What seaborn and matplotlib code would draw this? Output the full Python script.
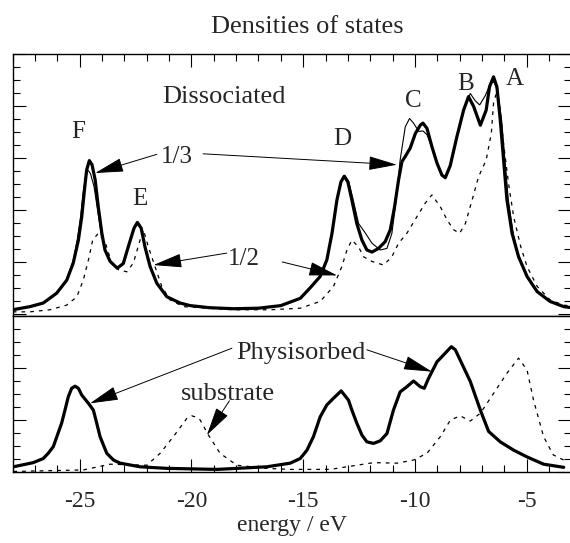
import matplotlib
matplotlib.use('Agg')
import matplotlib.pyplot as plt
from matplotlib.ticker import MultipleLocator
import seaborn as sns

# Estilo
sns.set_theme(style='ticks')
plt.rcParams['font.family'] = ['Liberation Serif', 'DejaVu Serif']
plt.rcParams['axes.unicode_minus'] = False

# --- Datos (energia en eV, DOS en unidades arbitrarias) ---
# Panel superior: disociado, curva gruesa
diss_thick_e = [-28.0, -27.23, -26.63, -26.03, -25.58, -25.29, -25.06, -24.91, -24.79, -24.69,
                -24.57, -24.45, -24.31, -24.17, -24.01, -23.87, -23.64, -23.32, -23.05, -22.78,
                -22.57, -22.42, -22.25, -22.08, -21.85, -21.55, -21.10, -20.51, -20.06, -19.2,
                -18.1, -17.0, -16.0, -15.13, -14.69, -14.24, -13.94, -13.71, -13.49, -13.31,
                -13.16, -13.0, -12.82, -12.60, -12.37, -12.15, -11.92, -11.63, -11.33, -11.10,
                -10.91, -10.73, -10.58, -10.43, -10.21, -9.98, -9.76, -9.64, -9.46, -9.24,
                -9.01, -8.79, -8.64, -8.42, -8.12, -7.82, -7.60, -7.37, -7.07, -6.81,
                -6.66, -6.48, -6.33, -6.18, -6.03, -5.88, -5.65, -5.36, -4.98, -4.53,
                -3.95, -3.34, -3.0]
diss_thick_dos = [0.08, 0.14, 0.21, 0.40, 0.65, 0.98, 1.42, 1.87, 2.38, 2.77,
                  2.95, 2.87, 2.58, 2.06, 1.55, 1.23, 1.01, 0.88, 0.97, 1.36,
                  1.65, 1.76, 1.65, 1.29, 0.91, 0.59, 0.33, 0.21, 0.16, 0.12,
                  0.10, 0.11, 0.16, 0.30, 0.50, 0.72, 1.04, 1.55, 2.19, 2.54,
                  2.65, 2.54, 2.19, 1.74, 1.42, 1.23, 1.19, 1.26, 1.39, 1.62,
                  2.06, 2.58, 2.93, 3.03, 3.19, 3.47, 3.63, 3.67, 3.57, 3.22,
                  2.90, 2.67, 2.62, 2.85, 3.41, 3.92, 4.18, 3.99, 3.63, 3.92,
                  4.37, 4.56, 4.37, 3.73, 2.96, 2.19, 1.55, 1.10, 0.72, 0.43,
                  0.24, 0.14, 0.12]

# Panel superior: curva fina
diss_thin_e = [-28.0, -27.23, -26.63, -26.03, -25.58, -25.29, -25.10, -24.96, -24.85, -24.74,
               -24.64, -24.52, -24.36, -24.20, -24.03, -23.87, -23.64, -23.32, -23.05, -22.78,
               -22.57, -22.42, -22.25, -22.08, -21.85, -21.55, -21.10, -20.51, -20.06, -19.2,
               -18.1, -17.0, -16.0, -15.13, -14.69, -14.24, -13.94, -13.71, -13.49, -13.31,
               -13.13, -12.96, -12.76, -12.52, -12.21, -11.92, -11.55, -11.25, -11.03, -10.84,
               -10.66, -10.43, -10.24, -10.06, -9.83, -9.64, -9.46, -9.24, -9.01, -8.79,
               -8.64, -8.42, -8.12, -7.82, -7.52, -7.30, -7.10, -6.85, -6.58, -6.45,
               -6.30, -6.12, -5.97, -5.82, -5.60, -5.36, -4.98, -4.53, -3.95, -3.34,
               -3.0]
diss_thin_dos = [0.08, 0.14, 0.21, 0.40, 0.67, 1.02, 1.45, 1.87, 2.32, 2.65,
                 2.77, 2.70, 2.45, 2.00, 1.52, 1.23, 1.01, 0.88, 0.97, 1.36,
                 1.65, 1.76, 1.65, 1.29, 0.91, 0.59, 0.33, 0.21, 0.16, 0.12,
                 0.10, 0.11, 0.16, 0.30, 0.50, 0.72, 1.04, 1.55, 2.19, 2.54,
                 2.66, 2.54, 2.19, 1.74, 1.55, 1.36, 1.23, 1.26, 1.55, 2.19,
                 2.96, 3.60, 3.76, 3.67, 3.51, 3.52, 3.45, 3.20, 2.90, 2.67,
                 2.62, 2.85, 3.41, 3.95, 4.24, 4.10, 4.02, 4.20, 4.47, 4.45,
                 4.30, 3.73, 2.96, 2.19, 1.55, 1.10, 0.72, 0.43, 0.24, 0.14,
                 0.12]

# Panel superior: curva punteada
diss_dash_e = [-28.0, -27.23, -26.33, -25.58, -25.13, -24.84, -24.61, -24.42, -24.17, -23.87,
               -23.57, -23.27, -22.89, -22.60, -22.30, -22.15, -21.93, -21.63, -21.33, -20.96,
               -20.36, -18.13, -16.5, -15.13, -14.24, -13.64, -13.27, -13.04, -12.82, -12.52,
               -12.30, -11.92, -11.40, -11.03, -10.73, -10.36, -9.91, -9.54, -9.24, -8.86,
               -8.56, -8.27, -8.0, -7.74, -7.44, -7.15, -6.81, -6.58, -6.48, -6.36,
               -6.21, -6.03, -5.81, -5.58, -5.26, -4.98, -4.53, -3.95, -3.34, -3.0]
diss_dash_dos = [0.04, 0.04, 0.08, 0.17, 0.33, 0.65, 1.04, 1.42, 1.55, 1.39,
                 0.98, 0.85, 0.81, 0.98, 1.42, 1.62, 1.29, 0.91, 0.53, 0.27,
                 0.14, 0.08, 0.08, 0.11, 0.24, 0.53, 0.91, 1.23, 1.42, 1.29,
                 1.10, 1.01, 0.94, 1.10, 1.36, 1.55, 1.87, 2.13, 2.29, 2.06,
                 1.81, 1.62, 1.55, 1.74, 2.19, 2.64, 2.96, 3.47, 4.05, 4.24,
                 3.99, 3.28, 2.51, 1.87, 1.29, 0.91, 0.53, 0.27, 0.17, 0.15]

# Panel inferior: fisisorbido
phys_e = [-27.97, -27.08, -26.63, -26.41, -26.18, -25.81, -25.66, -25.51, -25.36, -25.21,
          -25.06, -24.91, -24.61, -24.39, -24.24, -24.09, -23.79, -23.49, -23.19, -22.30,
          -21.10, -18.86, -16.63, -15.58, -15.13, -14.83, -14.54, -14.24, -13.94, -13.64,
          -13.30, -12.97, -12.82, -12.60, -12.37, -12.15, -11.85, -11.55, -11.25, -10.96,
          -10.66, -10.36, -10.06, -9.76, -9.58, -9.39, -9.01, -8.72, -8.37, -8.19,
          -7.97, -7.52, -7.07, -6.70, -6.18, -5.58, -4.98, -4.24, -3.34]
phys_dos = [0.10, 0.18, 0.26, 0.36, 0.49, 0.94, 1.19, 1.45, 1.61, 1.65,
            1.61, 1.48, 1.32, 1.19, 0.94, 0.68, 0.36, 0.23, 0.17, 0.10,
            0.07, 0.05, 0.10, 0.17, 0.26, 0.42, 0.68, 1.06, 1.29, 1.42,
            1.56, 1.38, 1.19, 0.94, 0.71, 0.58, 0.55, 0.60, 0.74, 1.19,
            1.54, 1.64, 1.75, 1.64, 1.61, 1.80, 2.12, 2.25, 2.41, 2.35,
            2.15, 1.74, 1.19, 0.78, 0.58, 0.42, 0.29, 0.15, 0.09]

# Panel inferior: sustrato
subs_e = [-27.97, -24.84, -23.64, -22.0, -21.40, -20.81, -20.36, -20.21, -19.98, -19.76,
          -19.61, -19.24, -18.72, -17.97, -16.63, -15.58, -13.79, -11.85, -10.80, -10.06,
          -9.46, -8.86, -8.41, -7.97, -7.52, -7.07, -6.48, -5.88, -5.36, -4.98,
          -4.69, -4.24, -3.81, -3.34]
subs_dos = [0.01, 0.04, 0.15, 0.13, 0.36, 0.68, 0.94, 1.03, 1.08, 1.05,
            1.00, 0.71, 0.36, 0.13, 0.07, 0.05, 0.05, 0.18, 0.17, 0.23,
            0.36, 0.68, 1.00, 1.08, 0.98, 1.13, 1.51, 1.90, 2.19, 1.96,
            1.38, 0.68, 0.33, 0.23]

# Etiquetas de picos
peak_labels = ['F', 'E', 'D', 'C', 'B', 'A']
peak_e = [-25.08, -22.32, -13.24, -10.06, -7.71, -5.51]
peak_y = [3.38, 2.10, 3.25, 3.99, 4.31, 4.40]

# --- Figura ---
W, H = 570, 543
fig = plt.figure(figsize=(W / 100, H / 100), dpi=100)
ax_top = fig.add_axes([12.7 / W, (H - 316) / H, 558.6 / W, 262 / H])
ax_bot = fig.add_axes([12.7 / W, (H - 472) / H, 558.6 / W, 156 / H])

dash = (0, (3, 4))
sns.lineplot(x=diss_dash_e, y=diss_dash_dos, ax=ax_top, color='black', linewidth=0.9, linestyle=dash)
sns.lineplot(x=diss_thin_e, y=diss_thin_dos, ax=ax_top, color='black', linewidth=0.8)
sns.lineplot(x=diss_thick_e, y=diss_thick_dos, ax=ax_top, color='black', linewidth=2.3,
             solid_joinstyle='round')
sns.lineplot(x=subs_e, y=subs_dos, ax=ax_bot, color='black', linewidth=0.9, linestyle=dash)
sns.lineplot(x=phys_e, y=phys_dos, ax=ax_bot, color='black', linewidth=2.3,
             solid_joinstyle='round')

ax_top.set_ylim(-0.04, 5.0)
ax_bot.set_ylim(0, 3)

for ax in (ax_top, ax_bot):
    ax.set_xlim(-28, -3)
    ax.xaxis.set_major_locator(MultipleLocator(5))
    ax.xaxis.set_minor_locator(MultipleLocator(1))
    ax.yaxis.set_major_locator(MultipleLocator(1))
    ax.yaxis.set_minor_locator(MultipleLocator(0.25))
    ax.tick_params(which='both', direction='in', width=0.8, color='black')
    ax.tick_params(which='major', length=9.4)
    ax.tick_params(which='minor', length=5)
    ax.tick_params(axis='y', which='both', left=True, right=True, labelleft=False)
    for s in ax.spines.values():
        s.set_linewidth(1.0)
        s.set_color('black')
    ax.set_xlabel('')
    ax.set_ylabel('')

ax_top.tick_params(axis='x', which='both', top=True, bottom=False, labelbottom=False)
ax_bot.tick_params(axis='x', which='both', top=False, bottom=True, labelbottom=True,
                   labelsize=17, pad=14)
ax_bot.set_xlabel('energy / eV', fontsize=17, labelpad=2)

# Textos
fig.text(307 / W, 1 - 33 / H, 'Densities of states', ha='center', va='baseline', fontsize=19)
ax_top.text(-18.53, 4.06, 'Dissociated', ha='center', va='baseline', fontsize=19)
for lab, xe, ye in zip(peak_labels, peak_e, peak_y):
    ax_top.text(xe, ye, lab, ha='center', va='baseline', fontsize=18)
ax_top.text(-20.67, 2.91, '1/3', ha='center', va='baseline', fontsize=18)
ax_top.text(-17.67, 0.94, '1/2', ha='center', va='baseline', fontsize=18)
ax_bot.text(-15.1, 2.17, 'Physisorbed', ha='center', va='baseline', fontsize=19)
ax_bot.text(-18.35, 1.38, 'substrate', ha='center', va='baseline', fontsize=19)

# Flechas
flecha = dict(arrowstyle='-|>,head_length=0.9,head_width=0.22', color='black', lw=0.7,
              shrinkA=0, shrinkB=0, mutation_scale=20)
ax_top.annotate('', xy=(-24.31, 2.71), xytext=(-21.55, 3.07), arrowprops=flecha)
ax_top.annotate('', xy=(-10.80, 2.87), xytext=(-19.48, 3.08), arrowprops=flecha)
ax_top.annotate('', xy=(-21.70, 0.94), xytext=(-18.42, 1.17), arrowprops=flecha)
ax_top.annotate('', xy=(-13.48, 0.74), xytext=(-15.94, 1.00), arrowprops=flecha)
ax_bot.annotate('', xy=(-24.54, 1.32), xytext=(-18.19, 2.38), arrowprops=flecha)
ax_bot.annotate('', xy=(-9.24, 1.93), xytext=(-12.15, 2.35), arrowprops=flecha)
ax_bot.annotate('', xy=(-19.31, 0.71), xytext=(-18.30, 1.37), arrowprops=flecha)

fig.savefig('out.png', dpi=100)
plt.close(fig)
